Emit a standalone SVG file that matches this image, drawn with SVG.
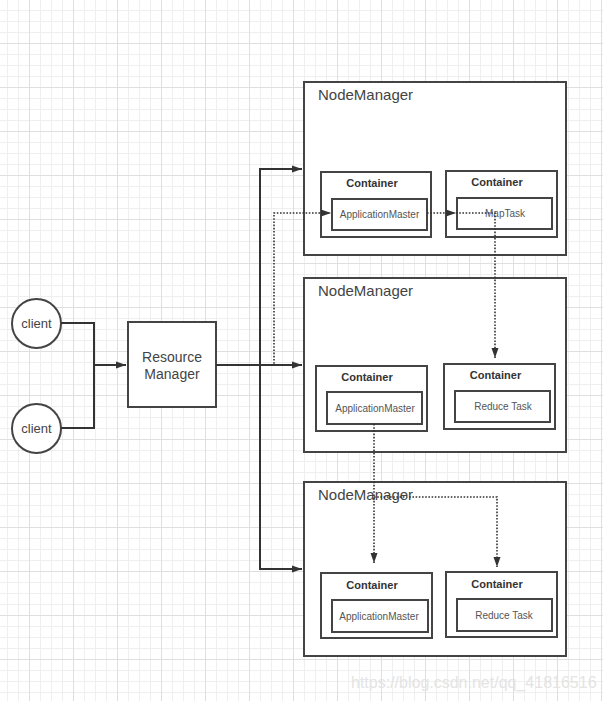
<svg xmlns="http://www.w3.org/2000/svg" width="603" height="701" viewBox="0 0 603 701">
<defs>
<pattern id="minor" x="7" y="10" width="11" height="11" patternUnits="userSpaceOnUse">
<path d="M0.5 0V11M0 0.5H11" stroke="#efefef" stroke-width="1" fill="none"/>
</pattern>
<pattern id="major" x="29" y="43" width="44" height="44" patternUnits="userSpaceOnUse">
<path d="M0.5 0V44M0 0.5H44" stroke="#dfdfdf" stroke-width="1" fill="none"/>
</pattern>
<marker id="arr" markerUnits="userSpaceOnUse" markerWidth="11" markerHeight="8" refX="10" refY="4" orient="auto">
<path d="M0,0.5 L10,4 L0,7.5 z" fill="#333"/>
</marker>
</defs>
<style>
.box{fill:#fff;stroke:#444;stroke-width:2}
.nm{font-family:"Liberation Sans",Arial,sans-serif;font-size:15px;fill:#444}
.ct{font-family:"Liberation Sans",Arial,sans-serif;font-size:11px;font-weight:bold;fill:#333;text-anchor:middle}
.it{font-family:"Liberation Sans",Arial,sans-serif;font-size:10px;fill:#555;text-anchor:middle}
.lb{font-family:"Liberation Sans",Arial,sans-serif;font-size:13px;fill:#444;text-anchor:middle}
.rm{font-family:"Liberation Sans",Arial,sans-serif;font-size:14px;fill:#444;text-anchor:middle}
.solid{fill:none;stroke:#333;stroke-width:2}
.dot{fill:none;stroke:#333;stroke-width:1.6;stroke-dasharray:1.6 1.6}
</style>
<rect width="603" height="701" fill="#fff"/>
<rect width="603" height="701" fill="url(#minor)"/>
<rect width="603" height="701" fill="url(#major)"/>

<g id="client1"><circle class="box" cx="36.5" cy="323.5" r="24.5"/><text class="lb" x="36.5" y="328">client</text></g>
<g id="client2"><circle class="box" cx="36.5" cy="428.5" r="24.5"/><text class="lb" x="36.5" y="433">client</text></g>
<g id="resourceManager"><rect class="box" x="128" y="322" width="88" height="85"/><text class="rm" x="172" y="362">Resource</text><text class="rm" x="172" y="379">Manager</text></g>

<g id="nodeManager1">
<rect class="box" x="304" y="82" width="262" height="173"/>
<text class="nm" x="318" y="100">NodeManager</text>
<rect class="box" x="321" y="172" width="110" height="65"/>
<text class="ct" x="372" y="187">Container</text>
<rect class="box" x="332" y="199" width="95" height="31"/>
<text class="it" x="379.5" y="218">ApplicationMaster</text>
<rect class="box" x="446" y="171" width="111" height="66"/>
<text class="ct" x="497" y="186">Container</text>
<rect class="box" x="457" y="198" width="95" height="31"/>
<text class="it" x="505" y="217">MapTask</text>
</g>

<g id="nodeManager2">
<rect class="box" x="304" y="278" width="262" height="174"/>
<text class="nm" x="318" y="296">NodeManager</text>
<rect class="box" x="316" y="366" width="111" height="65"/>
<text class="ct" x="367" y="381">Container</text>
<rect class="box" x="327" y="392" width="95" height="32"/>
<text class="it" x="375" y="412">ApplicationMaster</text>
<rect class="box" x="444" y="364" width="111" height="65"/>
<text class="ct" x="495.5" y="379">Container</text>
<rect class="box" x="455" y="391" width="95" height="31"/>
<text class="it" x="503" y="410">Reduce Task</text>
</g>

<g id="nodeManager3">
<rect class="box" x="304" y="482" width="262" height="174"/>
<text class="nm" x="318" y="500">NodeManager</text>
<rect class="box" x="321" y="573" width="111" height="65"/>
<text class="ct" x="372" y="589">Container</text>
<rect class="box" x="332" y="600" width="96" height="32"/>
<text class="it" x="379" y="620">ApplicationMaster</text>
<rect class="box" x="446" y="572" width="111" height="65"/>
<text class="ct" x="497" y="588">Container</text>
<rect class="box" x="457" y="599" width="95" height="32"/>
<text class="it" x="504" y="619">Reduce Task</text>
</g>

<g id="connectors">
<path class="solid" d="M61 323H94V428H61"/>
<path class="solid" d="M94 365H126" marker-end="url(#arr)"/>
<path class="solid" d="M216 365H302" marker-end="url(#arr)"/>
<path class="solid" d="M302 169H260V569H302" marker-end="url(#arr)"/>
<path class="solid" d="M260 169H302" marker-end="url(#arr)"/>
<path class="dot" d="M240 365H274V213H331" marker-end="url(#arr)"/>
<path class="dot" d="M427 213H456" marker-end="url(#arr)"/>
<path class="dot" d="M456 213H495V358" marker-end="url(#arr)"/>
<path class="dot" d="M374 424V563" marker-end="url(#arr)"/>
<path class="dot" d="M374 497H497V567" marker-end="url(#arr)"/>
</g>

<text x="351" y="688" font-family="'Liberation Sans',Arial,sans-serif" font-size="16" fill="#e4e4e4">https://blog.csdn.net/qq_41816516</text>
</svg>
